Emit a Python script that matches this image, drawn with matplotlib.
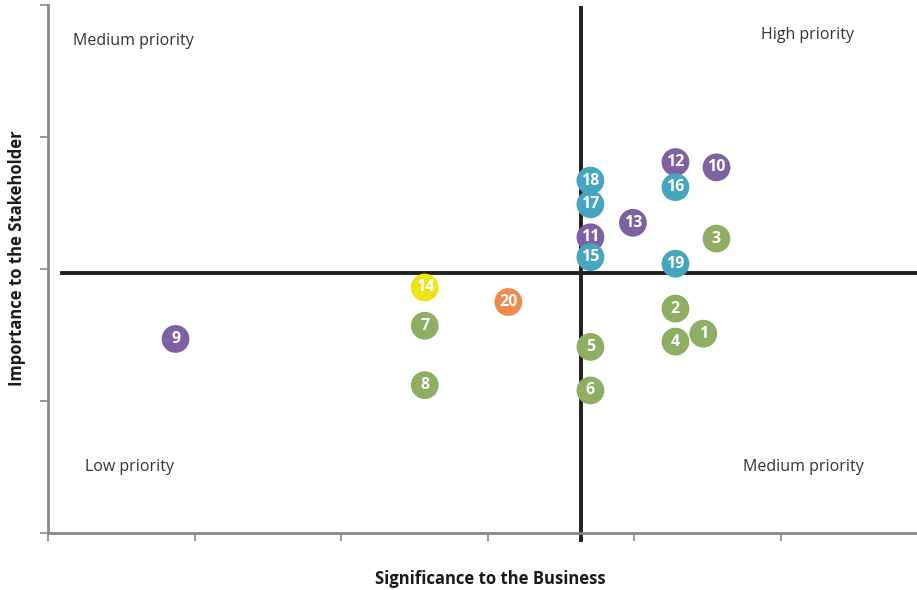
import matplotlib.pyplot as plt

# issue numbers, positions
issue_ids = [1, 2, 3, 4, 5, 6, 7, 8, 9, 10,
             11, 12, 13, 14, 15, 16, 17, 18, 19, 20]
business = [4.47, 4.28, 4.56, 4.28, 3.70, 3.70, 2.57, 2.57, 0.87, 4.56,
            3.70, 4.28, 3.99, 2.57, 3.70, 4.28, 3.70, 3.70, 4.28, 3.14]
stakeholder = [1.51, 1.70, 2.23, 1.45, 1.41, 1.08, 1.57, 1.12, 1.47, 2.77,
               2.24, 2.81, 2.35, 1.86, 2.09, 2.62, 2.49, 2.67, 2.04, 1.75]
groups = ["g", "g", "g", "g", "g", "g", "g", "g", "p", "p",
          "p", "p", "p", "y", "t", "t", "t", "t", "t", "o"]

group_colors = {"g": "#8eae64", "p": "#7e61a1", "t": "#47a6bd",
                "y": "#ece514", "o": "#f08b4f"}

quadrant_labels = ["Medium priority", "High priority", "Low priority", "Medium priority"]

x_split = 3.636
y_split = 1.97

plt.rcParams["font.family"] = ["Open Sans", "DejaVu Sans"]

fig = plt.figure(figsize=(9.17, 5.90), dpi=100)
ax = fig.add_axes([48 / 917, 1 - 533 / 590, 1 - 48 / 917, (533 - 5) / 590])
ax.set_xlim(0, (917 - 48) / 146.6)
ax.set_ylim(0, 4)

# quadrant lines
ax.plot([x_split, x_split], [-0.055, 3.98], color="#231f20", lw=2.8,
        clip_on=False, zorder=2)
ax.plot([0.095, 6.0], [y_split, y_split], color="#231f20", lw=2.8,
        clip_on=False, zorder=2)

for num, x, y, grp in zip(issue_ids, business, stakeholder, groups):
    ax.scatter(x, y, s=400, color=group_colors[grp], edgecolors="none", zorder=3)
    ax.text(x, y, str(num), color="white", fontsize=11.5, fontweight="bold",
            ha="center", va="center", zorder=4)

ax.text(0.17, 3.73, quadrant_labels[0], fontsize=11.5, color="#333333",
        ha="left", va="center")
ax.text(5.18, 3.77, quadrant_labels[1], fontsize=11.5, color="#333333",
        ha="center", va="center")
ax.text(0.25, 0.50, quadrant_labels[2], fontsize=11.5, color="#333333",
        ha="left", va="center")
ax.text(4.74, 0.50, quadrant_labels[3], fontsize=11.5, color="#333333",
        ha="left", va="center")

ax.set_xticks([0, 1, 2, 3, 4, 5])
ax.set_yticks([0, 1, 2, 3, 4])
ax.set_xticklabels([])
ax.set_yticklabels([])
ax.tick_params(length=6, width=1.2, color="#888888", direction="out")
for side in ["top", "right"]:
    ax.spines[side].set_visible(False)
for side in ["left", "bottom"]:
    ax.spines[side].set_color("#888888")
    ax.spines[side].set_linewidth(2)

fig.text(490 / 917, 1 - 579 / 590, "Significance to the Business",
         fontsize=12, fontweight="bold", ha="center", va="center", color="#1a1a1a")
fig.text(17 / 917, 1 - 258 / 590, "Importance to the Stakeholder",
         fontsize=12, fontweight="bold", ha="center", va="center",
         rotation=90, color="#1a1a1a")

fig.savefig("out.png", dpi=100)
